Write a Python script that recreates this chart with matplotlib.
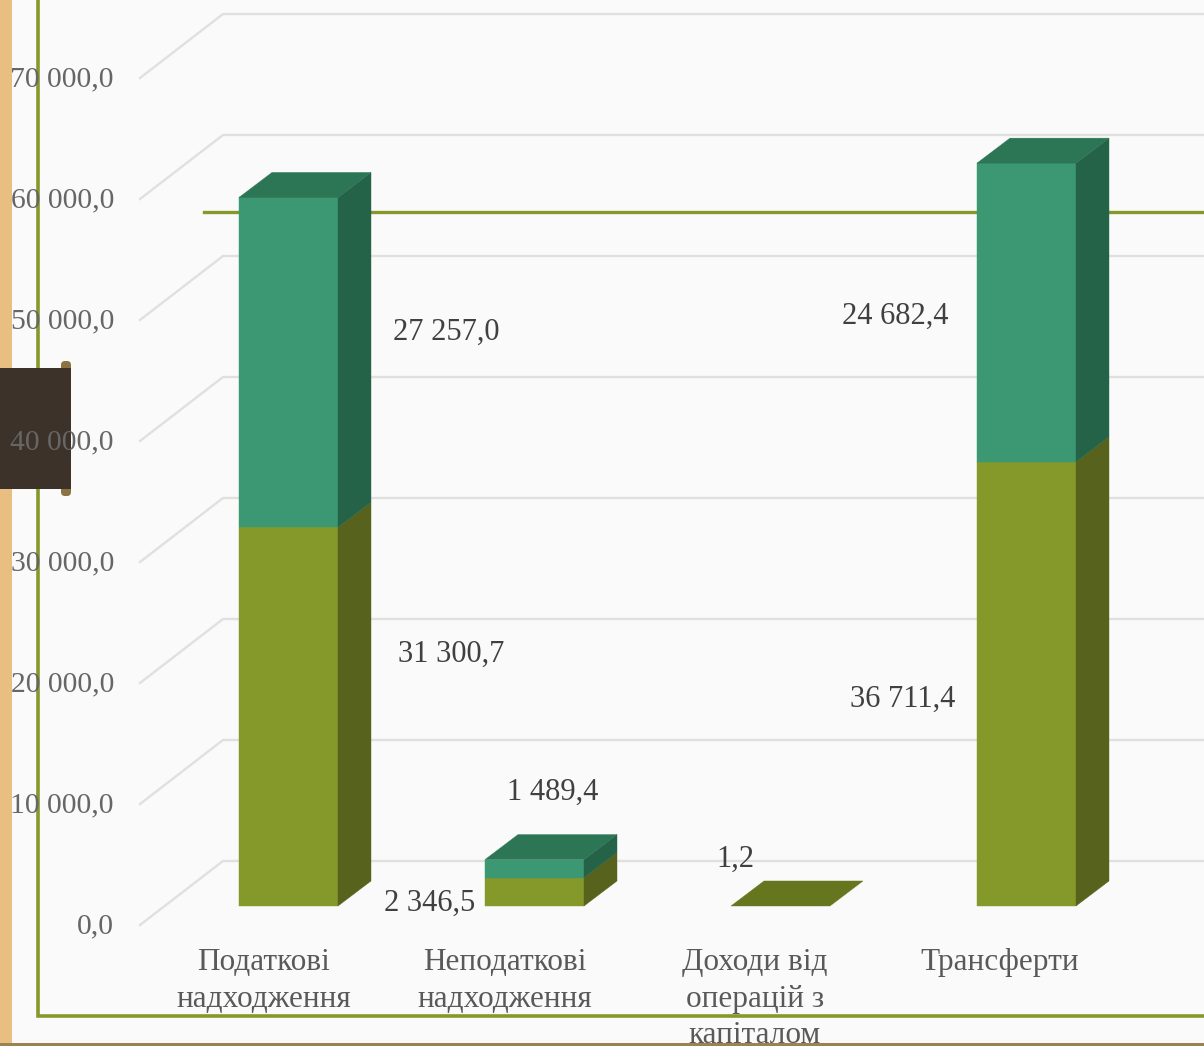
import matplotlib
matplotlib.use("Agg")
import matplotlib.pyplot as plt
from matplotlib.patches import Rectangle, Polygon, FancyBboxPatch
from matplotlib.transforms import Affine2D

# ---- data ----
categories = ["Податкові\nнадходження", "Неподаткові\nнадходження",
              "Доходи від\nоперацій з\nкапіталом", "Трансферти"]
series_lower = [31300.7, 2346.5, 1.2, 36711.4]
series_upper = [27257.0, 1489.4, 0.0, 24682.4]
lower_labels = ["31 300,7", "2 346,5", "1,2", "36 711,4"]
upper_labels = ["27 257,0", "1 489,4", "", "24 682,4"]
y_ticks = [0, 10000, 20000, 30000, 40000, 50000, 60000, 70000]
y_tick_labels = ["0,0", "10 000,0", "20 000,0", "30 000,0", "40 000,0",
                 "50 000,0", "60 000,0", "70 000,0"]

# ---- layout ----
W, H = 1204, 1046
PX_CAT, PX_VAL = 246.0, 0.0121      # pixels per category / per value unit
X0_PX, Y0_PX = 288.5, 906.0         # pixel of category 0 / of value 0 (bar front)
BAR_W = 99 / PX_CAT
BAR_DX, BAR_DY = 33 / PX_CAT, 25 / PX_VAL
GRID_FRONT_X, GRID_BACK_X = (140 - X0_PX) / PX_CAT, (223 - X0_PX) / PX_CAT
GRID_FRONT_Y, GRID_BACK_Y = (Y0_PX - 925) / PX_VAL, (Y0_PX - 861) / PX_VAL

FONT = ["Liberation Serif", "DejaVu Serif"]
TXT = "#595959"
OLIVE = dict(front="#85992B", side="#57631C", top="#66761F")
GREEN = dict(front="#3B9872", side="#256349", top="#2C7656")

fig = plt.figure(figsize=(W / 100, H / 100), dpi=100, facecolor="#FAFAFA")
ax = fig.add_axes([0, 0, 1, 1])
ax.set_xlim(-X0_PX / PX_CAT, (W - X0_PX) / PX_CAT)
ax.set_ylim((Y0_PX - H) / PX_VAL, Y0_PX / PX_VAL)
ax.axis("off")
px = Affine2D().scale(1, -1).translate(0, H)   # image pixels -> display

# ---- backdrop ----
def rect(x, y, w, h, color, z):
    ax.add_patch(Rectangle((x, y), w, h, transform=px, color=color, lw=0, zorder=z, clip_on=False))

rect(0, 0, 12, H, "#E8BF80", 1)
rect(0, 1043, W, 3, "#9A8350", 1)

# ---- gridlines ----
xmax = ax.get_xlim()[1]
for v in y_ticks:
    ax.plot([GRID_FRONT_X, GRID_BACK_X, xmax], [v + GRID_FRONT_Y, v + GRID_BACK_Y, v + GRID_BACK_Y],
            color="#E0E0DF", lw=1.7, solid_joinstyle="miter", zorder=2)

# ---- olive rule behind the bars ----
ax.plot([204, W], [212, 212], transform=px, color="#85992B", lw=2.4, zorder=3)

# ---- bars ----
def box(i, base, val, c, show_top):
    l, r = i - BAR_W / 2, i + BAR_W / 2
    t = base + val
    if val > 1.5:
        ax.add_patch(Polygon([(l, base), (r, base), (r, t), (l, t)], fc=c["front"], ec=c["front"], lw=0.3, zorder=5))
        ax.add_patch(Polygon([(r, base), (r + BAR_DX, base + BAR_DY), (r + BAR_DX, t + BAR_DY), (r, t)],
                             fc=c["side"], ec=c["side"], lw=0.3, zorder=5))
    if show_top:
        ax.add_patch(Polygon([(l, t), (r, t), (r + BAR_DX, t + BAR_DY), (l + BAR_DX, t + BAR_DY)],
                             fc=c["top"], ec=c["top"], lw=0.3, zorder=6))

for i, (a, b) in enumerate(zip(series_lower, series_upper)):
    box(i, 0, a, OLIVE, b == 0)
    if b > 0:
        box(i, a, b, GREEN, True)

# ---- frame and tab ----
ax.plot([38, 38, W], [0, 1015.5, 1015.5], transform=px, color="#85992B", lw=2.6,
        solid_joinstyle="miter", zorder=7)
for yy in (360, 481):
    ax.add_patch(FancyBboxPatch((61, yy + 1), 10, 14, boxstyle="round,pad=0,rounding_size=4", transform=px,
                                fc="#8D7344", ec="none", zorder=8))
rect(0, 368, 71, 121, "#3D3229", 9)

# ---- text ----
for v, s in zip(y_ticks, y_tick_labels):
    ax.text(114, Y0_PX + 19 - v * PX_VAL + 1, s, transform=px, ha="right", va="center", family=FONT,
            fontsize=21.3, color="#666666", zorder=10)

cat_x = [264, 505, 755, 1000]
for x, s in zip(cat_x, categories):
    ax.text(x, 948, s, transform=px, ha="center", va="top", family=FONT, fontsize=22.5,
            color=TXT, linespacing=1.35, zorder=10, clip_on=False)

lab_low = [(451, 654), (430, 903), (735, 859), (903, 699)]
lab_up = [(446, 332), (553, 792), None, (895, 316)]
for s, p in list(zip(lower_labels, lab_low)) + list(zip(upper_labels, lab_up)):
    if p:
        ax.text(p[0], p[1], s, transform=px, ha="center", va="center", family=FONT, fontsize=22,
                color="#404040", zorder=10)

fig.savefig("out.png", dpi=100, facecolor=fig.get_facecolor())
